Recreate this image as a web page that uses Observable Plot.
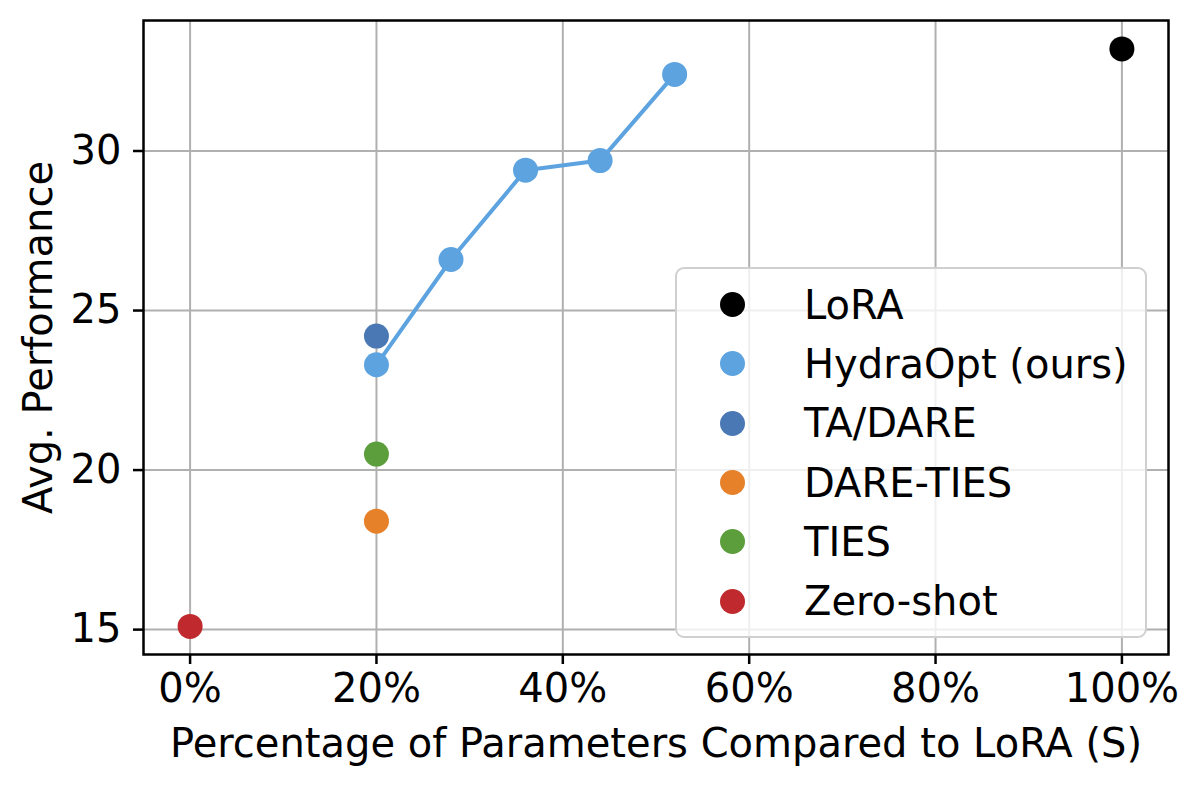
<!DOCTYPE html>
<html>
<head>
<meta charset="utf-8">
<script src="https://cdn.jsdelivr.net/npm/d3@7"></script>
<script src="https://cdn.jsdelivr.net/npm/@observablehq/plot@0.6"></script>
<style>
  html, body { margin: 0; padding: 0; background: #fff; }
  #wrap { position: relative; width: 1200px; height: 786px; font-family: "DejaVu Sans", sans-serif; }
  #legend {
    position: absolute; left: 675px; top: 267px; width: 468px; height: 361px;
    border: 2px solid #d0d0d0; border-radius: 9px; background: rgba(255,255,255,0.8);
    box-sizing: content-box; padding-top: 6px;
  }
  .item { height: 59.3px; display: flex; align-items: center; }
  .sw { width: 25px; height: 25px; border-radius: 50%; margin-left: 43px; }
  .lab { margin-left: 59px; font-size: 40px; color: #000; white-space: nowrap; line-height: 1; }
</style>
</head>
<body>
<div id="wrap"></div>
<script>
// ---- data ----
const series = ["LoRA", "HydraOpt (ours)", "TA/DARE", "DARE-TIES", "TIES", "Zero-shot"];
const colors = ["#000000", "#5da3e0", "#4a78b4", "#e6812a", "#5c9e3b", "#c0292d"];

const loraX = [100];
const loraY = [33.2];

const hydraX = [20, 28, 36, 44, 52];
const hydraY = [23.3, 26.6, 29.4, 29.7, 32.4];

const taDareX = [20];
const taDareY = [24.2];

const dareTiesX = [20];
const dareTiesY = [18.4];

const tiesX = [20];
const tiesY = [20.5];

const zeroShotX = [0];
const zeroShotY = [15.1];

const xTicks = [0, 20, 40, 60, 80, 100];
const yTicks = [15, 20, 25, 30];

const xLabel = "Percentage of Parameters Compared to LoRA (S)";
const yLabel = "Avg. Performance";

// ---- build ----
const pts = (xs, ys, name) => xs.map((x, i) => ({x, y: ys[i], name}));
const lora = pts(loraX, loraY, series[0]);
const hydra = pts(hydraX, hydraY, series[1]);
const taDare = pts(taDareX, taDareY, series[2]);
const dareTies = pts(dareTiesX, dareTiesY, series[3]);
const ties = pts(tiesX, tiesY, series[4]);
const zero = pts(zeroShotX, zeroShotY, series[5]);

const FONT = 40;
const R = 12.5;

const chart = Plot.plot({
  width: 1200,
  height: 786,
  marginLeft: 143,
  marginRight: 32,
  marginTop: 20,
  marginBottom: 132,
  style: { fontFamily: "DejaVu Sans, sans-serif", background: "#fff", overflow: "visible" },
  x: { domain: [-5, 105] },
  y: { domain: [14.22, 34.09] },
  color: { domain: series, range: colors },
  marks: [
    Plot.gridX(xTicks, { stroke: "#b0b0b0", strokeOpacity: 1, strokeWidth: 2 }),
    Plot.gridY(yTicks, { stroke: "#b0b0b0", strokeOpacity: 1, strokeWidth: 2 }),
    Plot.frame({ stroke: "#000", strokeWidth: 2.5 }),
    Plot.axisX(xTicks, { tickSize: 10, tickPadding: 9, fontSize: FONT, tickFormat: d => d + "%", label: null, stroke: "#000", strokeWidth: 2.5, color: "#000" }),
    Plot.axisY(yTicks, { tickSize: 10, tickPadding: 12, fontSize: FONT, label: null, stroke: "#000", strokeWidth: 2.5, color: "#000" }),
    Plot.line(hydra, { x: "x", y: "y", stroke: colors[1], strokeWidth: 4 }),
    Plot.dot(lora, { x: "x", y: "y", r: R, fill: "name" }),
    Plot.dot(taDare, { x: "x", y: "y", r: R, fill: "name" }),
    Plot.dot(hydra, { x: "x", y: "y", r: R, fill: "name" }),
    Plot.dot(dareTies, { x: "x", y: "y", r: R, fill: "name" }),
    Plot.dot(ties, { x: "x", y: "y", r: R, fill: "name" }),
    Plot.dot(zero, { x: "x", y: "y", r: R, fill: "name" }),
    Plot.text([xLabel], { text: d => d, frameAnchor: "bottom", textAnchor: "middle", lineAnchor: "middle", dy: 90, fontSize: FONT, fill: "#000" }),
    Plot.text([yLabel], { text: d => d, frameAnchor: "left", textAnchor: "middle", lineAnchor: "middle", dx: -104, rotate: -90, fontSize: FONT, fill: "#000" })
  ]
});

const wrap = document.getElementById("wrap");
wrap.appendChild(chart);

const legend = document.createElement("div");
legend.id = "legend";
series.forEach((s, i) => {
  const it = document.createElement("div");
  it.className = "item";
  const sw = document.createElement("div");
  sw.className = "sw";
  sw.style.background = colors[i];
  const lab = document.createElement("div");
  lab.className = "lab";
  lab.textContent = s;
  it.appendChild(sw);
  it.appendChild(lab);
  legend.appendChild(it);
});
wrap.appendChild(legend);
</script>
</body>
</html>
